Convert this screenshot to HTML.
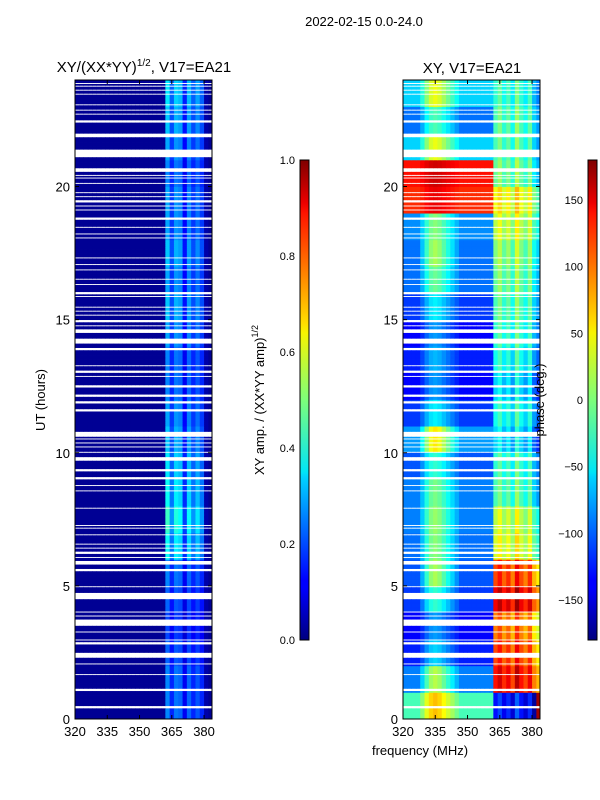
<!DOCTYPE html>
<html><head><meta charset="utf-8"><style>
body{margin:0;background:#fff;}
svg{display:block;font-family:"Liberation Sans",sans-serif;}
</style></head><body>
<svg id="fig" width="600" height="800" viewBox="0 0 600 800">
<defs>
<linearGradient id="jetg" x1="0" y1="1" x2="0" y2="0">
<stop offset="0" stop-color="#00007f"/><stop offset="0.11" stop-color="#0000ff"/><stop offset="0.125" stop-color="#0000ff"/>
<stop offset="0.34" stop-color="#00d4ff"/><stop offset="0.35" stop-color="#00e5f7"/><stop offset="0.5" stop-color="#7dff7a"/>
<stop offset="0.64" stop-color="#f7f400"/><stop offset="0.66" stop-color="#ffde00"/><stop offset="0.89" stop-color="#ff1300"/>
<stop offset="0.91" stop-color="#ed0000"/><stop offset="1" stop-color="#7f0000"/>
</linearGradient>
</defs>
<text x="364" y="26" font-size="13" text-anchor="middle">2022-02-15 0.0-24.0</text>
<text x="144" y="72" font-size="15" text-anchor="middle">XY/(XX*YY)<tspan font-size="10" dy="-6">1/2</tspan><tspan dy="6">, V17=EA21</tspan></text>
<text x="472" y="73" font-size="15" text-anchor="middle">XY, V17=EA21</text>
<g id="leftHeat"></g>
<g id="rightHeat"></g>
<rect x="75" y="80" width="137" height="639" fill="none" stroke="#000" stroke-width="1"/>
<rect x="403" y="80" width="137" height="639" fill="none" stroke="#000" stroke-width="1"/>
<g id="axes" font-size="13"></g>
<text transform="translate(45,400) rotate(-90)" font-size="13" text-anchor="middle">UT (hours)</text>
<text x="420" y="755" font-size="13" text-anchor="middle">frequency (MHz)</text>
<rect x="300" y="160" width="9" height="480" fill="url(#jetg)" stroke="#000" stroke-width="1"/>
<rect x="588" y="160" width="9" height="480" fill="url(#jetg)" stroke="#000" stroke-width="1"/>
<text transform="translate(264,400) rotate(-90)" font-size="13" text-anchor="middle">XY amp. / (XX*YY amp)<tspan font-size="9" dy="-6">1/2</tspan></text>
<text transform="translate(544,400) rotate(-90)" font-size="13" text-anchor="middle">phase (deg.)</text>
</svg>
<script>
// ---- data ----
const flagged = [[0.41,0.49],[1.05,1.13],[1.43,1.47],[1.65,1.72],[2.03,2.1],[2.3,2.5],[2.82,2.9],[2.93,3.0],[3.27,3.3],[3.5,3.75],[3.83,3.9],[4.0,4.05],[4.33,4.36],[4.5,4.73],[4.96,5.0],[5.23,5.26],[5.53,5.63],[5.78,5.93],[6.05,6.08],[6.2,6.3],
[6.4,6.44],[6.55,6.6],[6.78,6.82],[6.9,6.94],[7.03,7.07],[7.15,7.2],[7.25,7.29],[7.43,7.47],[7.63,7.67],[7.78,7.82],[7.9,7.94],[8.18,8.22],[8.33,8.37],[8.55,8.6],[8.75,8.79],
[9.0,9.1],[9.3,9.4],[9.7,9.85],[9.98,10.06],[10.18,10.25],[10.37,10.4],[10.48,10.55],[10.6,10.8],[11.57,11.65],[11.87,11.95],[12.1,12.2],[12.47,12.55],[12.85,12.92],[13.0,13.1],[13.25,13.3],[13.85,13.95],[14.1,14.3],[14.5,14.65],[14.76,14.8],[14.9,15.0],[15.13,15.2],[15.32,15.36],[15.47,15.5],[15.59,15.62],[15.74,15.77],[15.85,15.88],[15.96,16.04],[16.3,16.33],[16.38,16.41],[16.5,16.53],[16.86,16.9],[17.05,17.08],[17.28,17.35],
[18.07,18.1],[18.22,18.25],[18.45,18.48],[18.75,18.85],[19.1,19.13],[19.25,19.28],[19.4,19.5],[19.6,19.65],[19.76,19.8],[20.1,20.14],[20.3,20.35],[20.4,20.43],[20.55,20.7],[21.1,21.4],[21.85,22.0],[22.4,22.5],[22.7,22.75],[22.83,22.9],[23.05,23.12],[23.43,23.5],[23.58,23.65],[23.73,23.8],[23.87,23.9]];
const ampCol = [0.02,0.02,0.02,0.02,0.02,0.02,0.02,0.02,0.02,0.02,0.02,0.02,0.02,0.02,0.02,0.02,0.02,0.02,0.02,0.02,0.02,0.32,0.2,0.3,0.28,0.14,0.28,0.2,0.26,0.2,0.04,0.02];
const ampTime = [0.8,0.8,0.7,0.6,0.7,0.8,1.2,1.35,1.2,1.1,1.0,0.9,0.8,0.8,0.9,1.0,0.9,1.0,0.9,0.9,0.8,0.9,1.0,1.1];
const lowBase = [-20,-90,-125,-135,-115,-105,-95,-90,-90,-105,-80,-115,-135,-125,-135,-115,-95,-95,-85,120,130,-60,-95,-60];
const highBase = [-130,130,110,90,140,110,30,20,-20,-30,-60,-40,-60,-40,-30,-20,-10,0,20,40,-10,-20,-20,-30];
const bump = [0,0,0,0,30,70,100,110,100,80,60,40,20,0,0,0,0,0,0,0,0,0,0,0,0,0,0,0,0,0,0,0];
const bumpScale = [0.8,1.0,0.6,0.5,0.8,1.1,0.9,0.9,0.8,0.7,1.2,0.6,0.5,0.5,0.5,0.6,0.8,1.0,0.8,0.2,0.2,0.9,0.7,0.9];
const highCol = [0,0,0,0,0,0,0,0,0,0,0,0,0,0,0,0,0,0,0,0,0,0,20,-10,10,-20,30,0,-20,10,-40,-60];
const yTicks = [0,5,10,15,20];
const xTicks = [320,335,350,365,380];
const ampTicks = [0.0,0.2,0.4,0.6,0.8,1.0];
const phaseTicks = [-150,-100,-50,0,50,100,150];
// ---- scales ----
const F0=320,F1=383.7,T0=0,T1=24,Y0=719,Y1=80;
function yS(h){return Y0-(h-T0)/(T1-T0)*(Y0-Y1);}
function xL(f){return 75+(f-F0)/(F1-F0)*137;}
function xR(f){return 403+(f-F0)/(F1-F0)*137;}
function jet(v){v=Math.max(0,Math.min(1,v));
 const r=Math.max(0,Math.min(1,1.5-Math.abs(4*v-3))),g=Math.max(0,Math.min(1,1.5-Math.abs(4*v-2))),b=Math.max(0,Math.min(1,1.5-Math.abs(4*v-1)));
 return 'rgb('+Math.round(r*255)+','+Math.round(g*255)+','+Math.round(b*255)+')';}
const NS='http://www.w3.org/2000/svg';
function isFlag(t){for(const f of flagged){if(t>=f[0]&&t<f[1])return true;}return false;}
const LH=document.getElementById('leftHeat'),RH=document.getElementById('rightHeat');
const dt=0.05;
for(let i=0;i<Math.round(24/dt);i++){
 const t=i*dt, tm=t+dt/2;
 if(isFlag(tm)) continue;
 const h=Math.min(23,Math.floor(tm));
 const ya=yS(t+dt), yb=yS(t);
 for(let c=0;c<ampCol.length;c++){
  const f0=F0+2*c,f1=Math.min(F1,f0+2);
  if(f0>=F1)break;
  const a=Math.min(1,ampCol[c]*(c>20&&c<30?ampTime[h]:1));
  const r=document.createElementNS(NS,'rect');
  r.setAttribute('x',xL(f0));r.setAttribute('y',ya);r.setAttribute('width',xL(f1)-xL(f0)+0.4);r.setAttribute('height',yb-ya+0.4);
  r.setAttribute('fill',jet(a));
  
  
  LH.appendChild(r);
  let p=(f0<361)?lowBase[h]+bump[c]*bumpScale[h]:highBase[h]+highCol[c];
  while(p>180)p-=360;while(p<-180)p+=360;
  const q=document.createElementNS(NS,'rect');
  q.setAttribute('x',xR(f0));q.setAttribute('y',ya);q.setAttribute('width',xR(f1)-xR(f0)+0.4);q.setAttribute('height',yb-ya+0.4);
  q.setAttribute('fill',jet((p+180)/360));
  
  
  RH.appendChild(q);
 }
}
const AX=document.getElementById('axes');
function add(tag,attrs,txt,name){const e=document.createElementNS(NS,tag);for(const k in attrs)e.setAttribute(k,attrs[k]);if(txt!==undefined)e.textContent=txt;
 
 
 AX.appendChild(e);}
for(const v of yTicks){const y=yS(v);
 for(const x0 of [75,403]){add('line',{x1:x0,x2:x0+4,y1:y,y2:y,stroke:'#000'},undefined,'y-tick');add('line',{x1:x0+137,x2:x0+133,y1:y,y2:y,stroke:'#000'},undefined,'y-tick');
  add('text',{x:x0-5,y:y+5,'text-anchor':'end'},String(v),'y-tick-label');}}
for(const v of xTicks){for(const fn of [xL,xR]){const x=fn(v);
 add('line',{x1:x,x2:x,y1:719,y2:715,stroke:'#000'},undefined,'x-tick');add('line',{x1:x,x2:x,y1:80,y2:84,stroke:'#000'},undefined,'x-tick');
 add('text',{x:x,y:736,'text-anchor':'middle'},String(v),'x-tick-label');}}
for(const v of ampTicks){const y=640-v*480;
 add('line',{x1:300,x2:303,y1:y,y2:y,stroke:'#000'},undefined,'amp-colorbar-tick');add('line',{x1:309,x2:306,y1:y,y2:y,stroke:'#000'},undefined,'amp-colorbar-tick');
 add('text',{x:295,y:y+4,'text-anchor':'end','font-size':'11'},v.toFixed(1),'amp-colorbar-tick-label');}
for(const v of phaseTicks){const y=640-(v+180)/360*480;
 add('line',{x1:588,x2:591,y1:y,y2:y,stroke:'#000'},undefined,'phase-colorbar-tick');add('line',{x1:597,x2:594,y1:y,y2:y,stroke:'#000'},undefined,'phase-colorbar-tick');
 add('text',{x:583,y:y+4,'text-anchor':'end','font-size':'11'},(v<0?'\u2212'+(-v):String(v)),'phase-colorbar-tick-label');}
</script>
</body></html>
